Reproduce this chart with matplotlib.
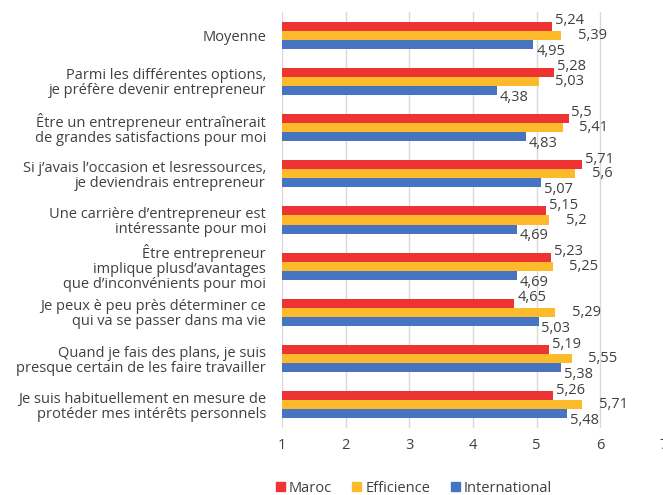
import matplotlib.pyplot as plt
import numpy as np
from matplotlib.patches import Patch

plt.rcParams['font.family'] = ['Open Sans', 'DejaVu Sans']

#Categories (top to bottom)
categories = [
    "Moyenne",
    "Parmi les différentes options,\nje préfère devenir entrepreneur",
    "Être un entrepreneur entraînerait\nde grandes satisfactions pour moi",
    "Si j\u2019avais l\u2019occasion et lesressources,\nje deviendrais entrepreneur",
    "Une carrière d\u2019entrepreneur est\nintéressante pour moi",
    "Être entrepreneur\nimplique plusd\u2019avantages\nque d\u2019inconvénients pour moi",
    "Je peux è peu près déterminer ce\nqui va se passer dans ma vie",
    "Quand je fais des plans, je suis\npresque certain de les faire travailler",
    "Je suis habituellement en mesure de\nprotéder mes intérêts personnels",
]

#Series values
maroc = [5.24, 5.28, 5.5, 5.71, 5.15, 5.23, 4.65, 5.19, 5.26]
efficience = [5.39, 5.03, 5.41, 5.6, 5.2, 5.25, 5.29, 5.55, 5.71]
international = [4.95, 4.38, 4.83, 5.07, 4.69, 4.69, 5.03, 5.38, 5.48]

series_names = ["Maroc", "Efficience", "International"]
colors = ["#EE3333", "#FDBB2C", "#4674C1"]

fig = plt.figure(figsize=(6.63, 4.95), dpi=100)
ax = fig.add_axes([282/663, 1-428/495, 382/663, 416/495])

base = 1
y = np.arange(len(categories))
h = 0.195
series = [maroc, efficience, international]
offsets = [(2, 4), (12, 0), (2, -5)]  # label shift in points per series

for i, (vals, col) in enumerate(zip(series, colors)):
    pos = y + (i - 1) * h
    widths = [v - base for v in vals]
    ax.barh(pos, widths, left=base, height=h, color=col, zorder=3)
    for p, v in zip(pos, vals):
        txt = ("%g" % v).replace(".", ",")
        ax.annotate(txt, (v, p), xytext=offsets[i], textcoords="offset points",
                    ha="left", va="center", fontsize=10.5, color="#404040")

ax.set_xlim(1, 7)
ax.set_ylim(len(categories) - 0.5, -0.5)
ax.set_xticks(range(1, 8))
ax.set_yticks(y)
ax.set_yticklabels(categories, fontsize=10.5, color="#404040", linespacing=1.0)
ax.tick_params(axis="both", length=0, colors="#404040", labelsize=10.5)
ax.tick_params(axis="x", pad=7)
ax.tick_params(axis="y", pad=11.5)
ax.grid(axis="x", color="#D9D9D9", linewidth=1, zorder=0)
for s in ax.spines.values():
    s.set_visible(False)

handles = [Patch(color=c, label=n) for c, n in zip(colors, series_names)]
fig.legend(handles=handles, loc="lower center", bbox_to_anchor=(414/663, -0.028),
           ncol=3, frameon=False, fontsize=10.5, handlelength=0.6, handleheight=0.6,
           handletextpad=0.3, columnspacing=1.4, labelcolor="#404040")

plt.savefig("out.png", dpi=100)
